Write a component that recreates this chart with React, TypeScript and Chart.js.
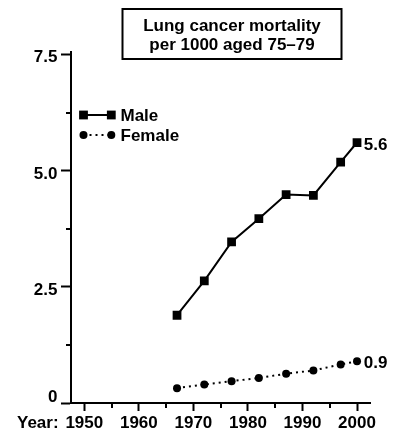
import React, { useEffect, useRef } from "react";
import { Chart, registerables } from "chart.js";

Chart.register(...registerables);

const years = [1967, 1972, 1977, 1982, 1987, 1992, 1997, 2000];
const maleValues = [1.89, 2.63, 3.47, 3.97, 4.49, 4.47, 5.19, 5.61];
const femaleValues = [0.32, 0.4, 0.47, 0.54, 0.63, 0.7, 0.83, 0.9];
const seriesNames = ["Male", "Female"];
const endLabels = ["5.6", "0.9"];
const titleLines = ["Lung cancer mortality", "per 1000 aged 75\u201379"];
const xAxisPrefix = "Year:";
const xMajorTicks = [1950, 1960, 1970, 1980, 1990, 2000];
const xMinorTicks = [1955, 1965, 1975, 1985, 1995];
const yMajorTicks = [0, 2.5, 5, 7.5];
const yTickLabels = ["0", "2.5", "5.0", "7.5"];
const yMinorTicks = [1.25, 3.75, 6.25];

const FONT = "bold 17px 'Liberation Sans', Arial, Helvetica, sans-serif";

const decorPlugin = {
  id: "decor",
  afterDraw(chart: any) {
    const ctx = chart.ctx as CanvasRenderingContext2D;
    const xs = chart.scales.x;
    const ys = chart.scales.y;
    const area = chart.chartArea;
    ctx.save();
    ctx.strokeStyle = "#000";
    ctx.fillStyle = "#000";
    ctx.lineWidth = 2;
    // minor ticks
    xMinorTicks.forEach((v) => {
      const px = Math.round(xs.getPixelForValue(v));
      ctx.beginPath();
      ctx.moveTo(px, area.bottom);
      ctx.lineTo(px, area.bottom + 5);
      ctx.stroke();
    });
    yMinorTicks.forEach((v) => {
      const py = Math.round(ys.getPixelForValue(v));
      ctx.beginPath();
      ctx.moveTo(area.left - 5, py);
      ctx.lineTo(area.left, py);
      ctx.stroke();
    });
    // y tick labels
    ctx.font = FONT;
    ctx.textAlign = "right";
    ctx.textBaseline = "middle";
    yMajorTicks.forEach((v, i) => {
      const py = ys.getPixelForValue(v);
      const off = v === 0 ? -5.5 : 3;
      ctx.fillText(yTickLabels[i], area.left - 13.5, py + off);
    });
    // "Year:" prefix
    ctx.textAlign = "left";
    ctx.fillText(xAxisPrefix, 17, area.bottom + 20.5);
    // title box
    ctx.lineWidth = 2;
    ctx.strokeRect(122.5, 9, 219, 50);
    ctx.textAlign = "center";
    ctx.textBaseline = "alphabetic";
    ctx.fillText(titleLines[0], 232, 31);
    ctx.fillText(titleLines[1], 232, 50);
    // legend
    const lx0 = 83.5;
    const lx1 = 111.3;
    const my = 115;
    const fy = 135;
    ctx.beginPath();
    ctx.moveTo(lx0, my);
    ctx.lineTo(lx1, my);
    ctx.stroke();
    [lx0, lx1].forEach((x) => ctx.fillRect(x - 4.4, my - 4.4, 8.8, 8.8));
    ctx.setLineDash([2, 4]);
    ctx.beginPath();
    ctx.moveTo(lx0, fy);
    ctx.lineTo(lx1, fy);
    ctx.stroke();
    ctx.setLineDash([]);
    [lx0, lx1].forEach((x) => {
      ctx.beginPath();
      ctx.arc(x, fy, 4, 0, Math.PI * 2);
      ctx.fill();
    });
    ctx.textAlign = "left";
    ctx.textBaseline = "middle";
    ctx.fillText(seriesNames[0], 120.5, my + 1);
    ctx.fillText(seriesNames[1], 120.5, fy + 1);
    // end labels
    ctx.textBaseline = "alphabetic";
    chart.data.datasets.forEach((ds: any, i: number) => {
      const meta = chart.getDatasetMeta(i);
      const last = meta.data[meta.data.length - 1];
      ctx.fillText(endLabels[i], last.x + 6.7, last.y + 7);
    });
    ctx.restore();
  },
};

export default function App() {
  const ref = useRef<HTMLCanvasElement | null>(null);
  useEffect(() => {
    if (!ref.current) return;
    const chart = new Chart(ref.current, {
      type: "line",
      data: {
        datasets: [
          {
            label: seriesNames[0],
            data: years.map((y, i) => ({ x: y, y: maleValues[i] })),
            borderColor: "#000",
            backgroundColor: "#000",
            borderWidth: 2,
            pointStyle: "rect",
            pointRadius: 6.2,
            pointBorderWidth: 0,
            pointBackgroundColor: "#000",
            tension: 0,
          },
          {
            label: seriesNames[1],
            data: years.map((y, i) => ({ x: y, y: femaleValues[i] })),
            borderColor: "#000",
            backgroundColor: "#000",
            borderWidth: 2,
            borderDash: [2, 4],
            pointStyle: "circle",
            pointRadius: 4,
            pointBorderWidth: 0,
            pointBackgroundColor: "#000",
            tension: 0,
          },
        ],
      },
      options: {
        animation: false,
        responsive: false,
        maintainAspectRatio: false,
        layout: { padding: { left: 0, right: 30, top: 51.5, bottom: 0 } },
        plugins: {
          legend: { display: false },
          tooltip: { enabled: false },
          title: { display: false },
        },
        scales: {
          x: {
            type: "linear",
            min: 1947.56,
            max: 2002.38,
            afterBuildTicks: (s: any) => {
              s.ticks = xMajorTicks.map((v) => ({ value: v }));
            },
            afterFit: (s: any) => {
              s.height = 36;
            },
            border: { display: true, color: "#000", width: 2 },
            grid: {
              display: true,
              drawOnChartArea: false,
              drawTicks: true,
              tickLength: 8,
              tickWidth: 2,
              tickColor: "#000",
            },
            ticks: {
              color: "#000",
              padding: 2,
              maxRotation: 0,
              autoSkip: false,
              font: { family: "'Liberation Sans', Arial, sans-serif", size: 17, weight: "bold" },
              callback: (v: any) => String(v),
            },
          },
          y: {
            type: "linear",
            min: 0,
            max: 7.57,
            afterBuildTicks: (s: any) => {
              s.ticks = yMajorTicks.map((v) => ({ value: v }));
            },
            afterFit: (s: any) => {
              s.width = 71;
            },
            border: { display: true, color: "#000", width: 2 },
            grid: {
              display: true,
              drawOnChartArea: false,
              drawTicks: true,
              tickLength: 10,
              tickWidth: 2,
              tickColor: "#000",
            },
            ticks: { display: false },
          },
        },
      },
      plugins: [decorPlugin],
    } as any);
    return () => chart.destroy();
  }, []);
  return (
    <div style={{ position: "absolute", left: 0, top: 0, width: 400, height: 439, background: "#fff" }}>
      <canvas ref={ref} width={400} height={439} style={{ display: "block" }} />
    </div>
  );
}
